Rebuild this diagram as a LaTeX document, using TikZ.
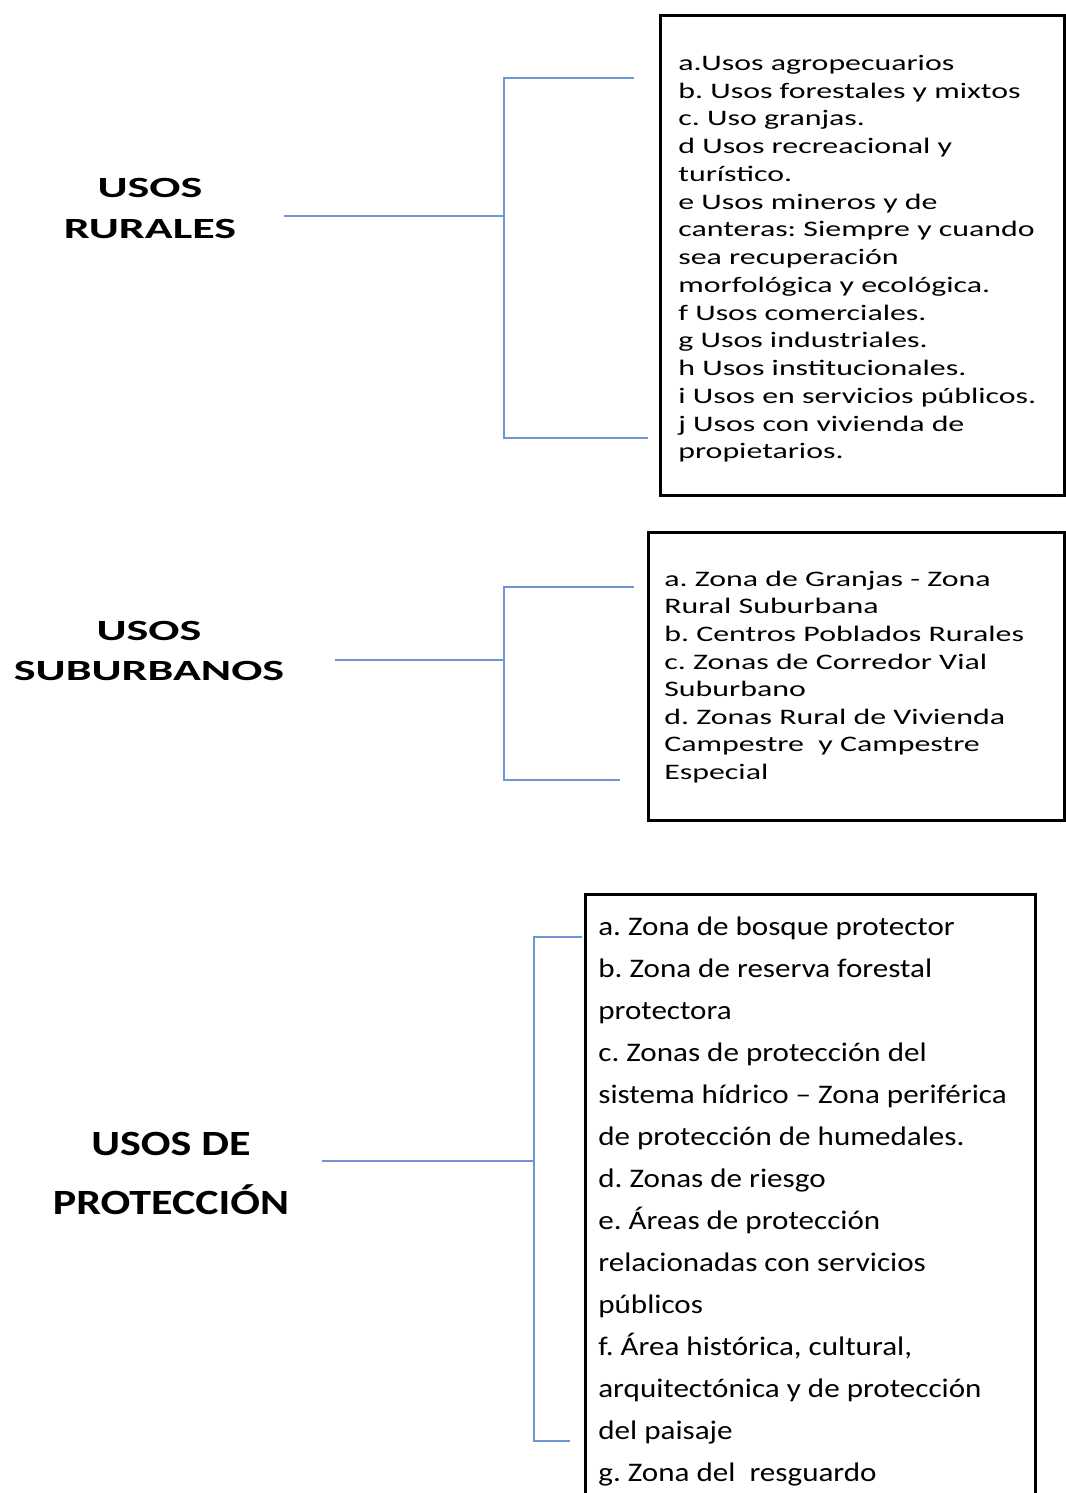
\documentclass[tikz,border=0pt]{standalone}
\usepackage{fontspec}
\setmainfont{Carlito}
\newfontfamily\listfont[FakeStretch=1.44]{Carlito}
\newfontfamily\lowfont[FakeStretch=1.16]{Carlito}
\newfontfamily\headfont[FakeStretch=1.57]{Carlito}
\newfontfamily\lowheadfont[FakeStretch=1.24]{Carlito}
\frenchspacing
\definecolor{braceblue}{RGB}{110,150,210}
\tikzset{
  frame/.style={draw, line width=1.7pt, anchor=north west, inner sep=0pt},
  brace/.style={draw=braceblue, line width=1.1pt},
  items/.style={anchor=north west, align=left, inner sep=0pt},
  head/.style={anchor=north, align=center, inner sep=0pt}
}

\begin{document}
\begin{tikzpicture}[x=0.02cm, y=-0.02cm]
  \useasboundingbox (0,0) rectangle (1065,1493);

  \node[frame, minimum width=8.08cm, minimum height=9.6cm] (boxR) at (659,14) {};
  \node[frame, minimum width=8.32cm, minimum height=5.76cm] (boxS) at (647,531) {};
  \node[frame, minimum width=9cm, minimum height=12.6cm] (boxP) at (584,893) {};

  \node[head, font=\headfont\bfseries\fontsize{16.7}{23.2}\selectfont] (rurales) at (150,168.4) {\strut USOS\\RURALES};
  \node[head, font=\headfont\bfseries\fontsize{16.7}{22.7}\selectfont] (suburbanos) at (149,612) {\strut USOS\\SUBURBANOS};
  \node[head, font=\lowheadfont\bfseries\fontsize{20.2}{34}\selectfont] (proteccion) at (171,1113) {\strut USOS DE\\PROTECCIÓN};

  \node[items, font=\listfont\fontsize{12.6}{15.8}\selectfont] (listR) at (678,50.5) {%
    \strut a.Usos agropecuarios\\
    b. Usos forestales y mixtos\\
    c. Uso granjas.\\
    d Usos recreacional y\\
    turístico.\\
    e Usos mineros y de\\
    canteras: Siempre y cuando\\
    sea recuperación\\
    morfológica y ecológica.\\
    f Usos comerciales.\\
    g Usos industriales.\\
    h Usos institucionales.\\
    i Usos en servicios públicos.\\
    j Usos con vivienda de\\
    propietarios.};
  \node[items, font=\listfont\fontsize{12.6}{15.7}\selectfont] (listS) at (664,566.6) {%
    \strut a. Zona de Granjas - Zona\\
    Rural Suburbana\\
    b. Centros Poblados Rurales\\
    c. Zonas de Corredor Vial\\
    Suburbano\\
    d. Zonas Rural de Vivienda\\
    Campestre\ \ y Campestre\\
    Especial};
  \node[items, font=\lowfont\fontsize{15.25}{23.9}\selectfont] (listP) at (598,905.5) {%
    \strut a. Zona de bosque protector\\
    b. Zona de reserva forestal\\
    protectora\\
    c. Zonas de protección del\\
    sistema hídrico – Zona periférica\\
    de protección de humedales.\\
    d. Zonas de riesgo\\
    e. Áreas de protección\\
    relacionadas con servicios\\
    públicos\\
    f. Área histórica, cultural,\\
    arquitectónica y de protección\\
    del paisaje\\
    g. Zona del\ \ resguardo};

  \coordinate (rS) at (284,216);
  \coordinate (rM) at (504,216);
  \coordinate (rT) at (634,78);
  \coordinate (rB) at (648,438);
  \coordinate (sS) at (335,660);
  \coordinate (sM) at (504,660);
  \coordinate (sT) at (634,587);
  \coordinate (sB) at (620,780);
  \coordinate (pS) at (322,1161);
  \coordinate (pM) at (534,1161);
  \coordinate (pT) at (582,937);
  \coordinate (pB) at (570,1441);

  \draw[brace] (rS) -- (rM);
  \draw[brace] (rT) -| (rM) |- (rB);
  \draw[brace] (sS) -- (sM);
  \draw[brace] (sT) -| (sM) |- (sB);
  \draw[brace] (pS) -- (pM);
  \draw[brace] (pT) -| (pM) |- (pB);
\end{tikzpicture}
\end{document}
